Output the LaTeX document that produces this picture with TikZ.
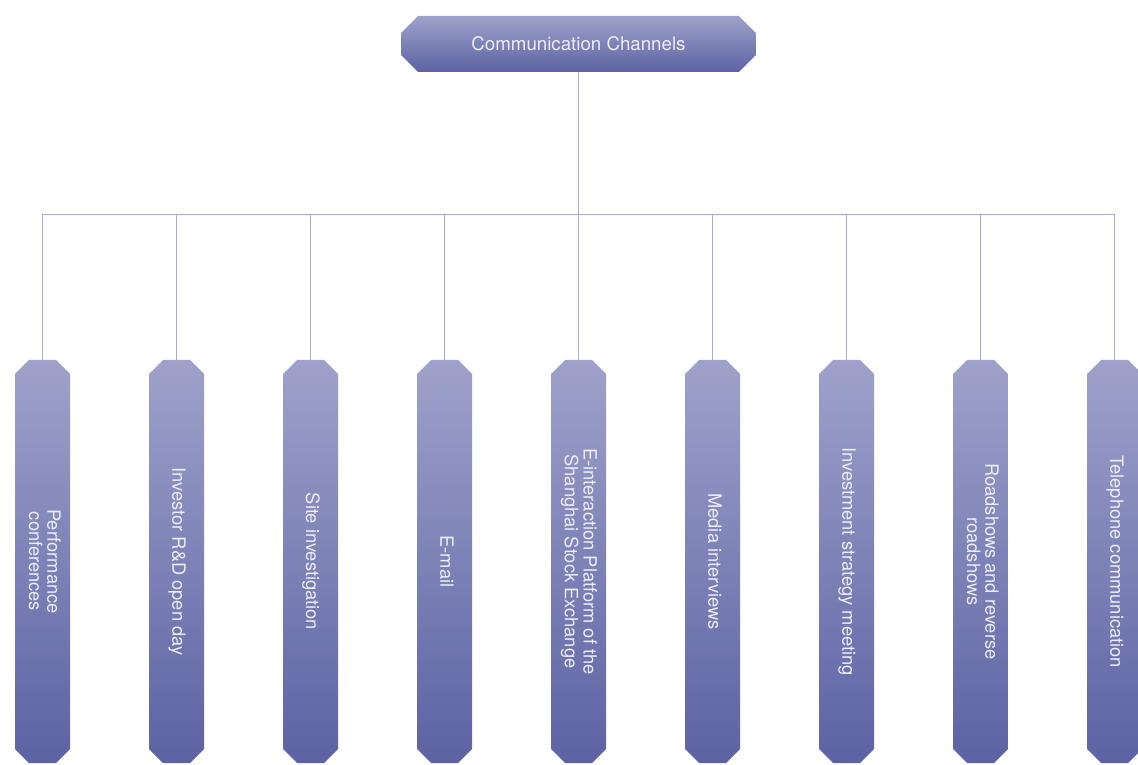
\documentclass[tikz,border=0pt]{standalone}
\usepackage{fontspec}
\setmainfont{TeX Gyre Heros}
\usepackage{graphicx}
\usetikzlibrary{shapes.misc}
\definecolor{boxtop}{RGB}{158,162,202}
\definecolor{boxbot}{RGB}{92,98,163}
\definecolor{wirecol}{RGB}{168,171,216}
\definecolor{txtcol}{RGB}{236,237,246}
\newcommand{\vtext}[1]{\rotatebox{-90}{\begin{tabular}{@{}c@{}}#1\end{tabular}}}

\begin{document}
\begin{tikzpicture}[x=1pt,y=1pt]
    \tikzstyle{root}=[chamfered rectangle, chamfered rectangle sep=10pt, top color=boxtop, bottom color=boxbot, minimum width=355pt, minimum height=56pt, inner sep=0pt, text=txtcol, font=\fontsize{18.7}{16.5}\selectfont]
    \tikzstyle{channel}=[chamfered rectangle, chamfered rectangle sep=7pt, top color=boxtop, bottom color=boxbot, minimum width=55pt, minimum height=403pt, inner sep=0pt, text=txtcol, font=\fontsize{18.3}{16.5}\selectfont]
    \tikzstyle{wire}=[draw=wirecol, line width=1.2pt]
    \useasboundingbox (0,0) rectangle (1138,764);
    \node[root] (cc) at (578.5,720) {Communication Channels};
    \node[channel] (ch1) at (42.5,202.5) {\vtext{Performance\\conferences}};
    \node[channel] (ch2) at (176.5,202.5) {\vtext{Investor R\&D open day}};
    \node[channel] (ch3) at (310.5,202.5) {\vtext{Site investigation}};
    \node[channel] (ch4) at (444.5,202.5) {\vtext{E-mail}};
    \node[channel] (ch5) at (578.5,202.5) {\vtext{E-interaction Platform of the\\Shanghai Stock Exchange}};
    \node[channel] (ch6) at (712.5,202.5) {\vtext{Media interviews}};
    \node[channel] (ch7) at (846.5,202.5) {\vtext{Investment strategy meeting}};
    \node[channel] (ch8) at (980.5,202.5) {\vtext{Roadshows and reverse\\roadshows}};
    \node[channel] (ch9) at (1114.5,202.5) {\vtext{Telephone communication}};
    \draw[wire] (cc.south) -- ++(0,-142) -| (ch1.north);
    \draw[wire] (cc.south) -- ++(0,-142) -| (ch2.north);
    \draw[wire] (cc.south) -- ++(0,-142) -| (ch3.north);
    \draw[wire] (cc.south) -- ++(0,-142) -| (ch4.north);
    \draw[wire] (cc.south) -- (ch5.north);
    \draw[wire] (cc.south) -- ++(0,-142) -| (ch6.north);
    \draw[wire] (cc.south) -- ++(0,-142) -| (ch7.north);
    \draw[wire] (cc.south) -- ++(0,-142) -| (ch8.north);
    \draw[wire] (cc.south) -- ++(0,-142) -| (ch9.north);
\end{tikzpicture}
\end{document}
